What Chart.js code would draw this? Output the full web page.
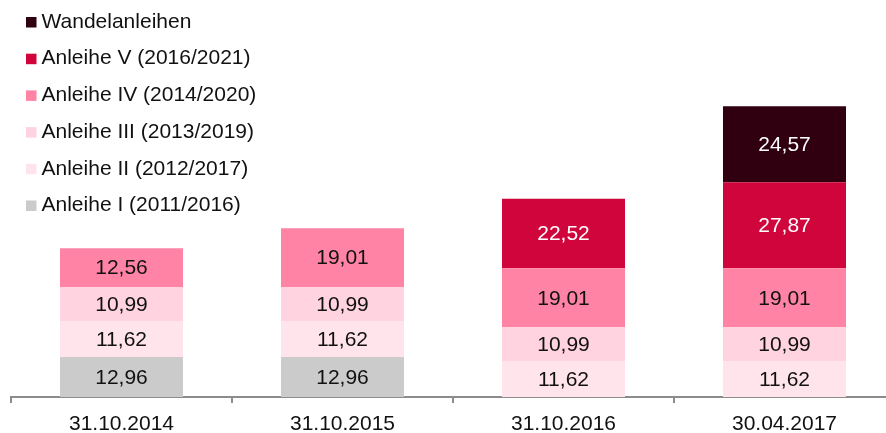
<!DOCTYPE html>
<html>
<head>
<meta charset="utf-8">
<script src="https://cdn.jsdelivr.net/npm/chart.js@4"></script>
<style>
html, body { margin: 0; padding: 0; background: #fff; overflow: hidden; }
#wrap { position: relative; width: 896px; height: 433px; }
</style>
</head>
<body>
<div id="wrap"><canvas id="c"></canvas></div>
<script>
const categories = ['31.10.2014', '31.10.2015', '31.10.2016', '30.04.2017'];
const anleiheI   = [12.96, 12.96, null, null];
const anleiheII  = [11.62, 11.62, 11.62, 11.62];
const anleiheIII = [10.99, 10.99, 10.99, 10.99];
const anleiheIV  = [12.56, 19.01, 19.01, 19.01];
const anleiheV   = [null, null, 22.52, 27.87];
const wandel     = [null, null, null, 24.57];
const seriesNames = ['Anleihe I (2011/2016)', 'Anleihe II (2012/2017)', 'Anleihe III (2013/2019)',
                     'Anleihe IV (2014/2020)', 'Anleihe V (2016/2021)', 'Wandelanleihen'];
const seriesColors = ['#cbcbcb', '#ffe4ec', '#ffd3df', '#ff83a5', '#cf053b', '#300010'];
const labelColors  = ['#111', '#111', '#111', '#111', '#fff', '#fff'];
const seriesData = [anleiheI, anleiheII, anleiheIII, anleiheIV, anleiheV, wandel];

const FONT = '21px "Liberation Sans", Arial, sans-serif';

const valueLabels = {
  id: 'valueLabels',
  afterDatasetsDraw(chart) {
    const ctx = chart.ctx;
    ctx.save();
    ctx.font = FONT;
    ctx.textAlign = 'center';
    ctx.textBaseline = 'middle';
    chart.data.datasets.forEach((ds, di) => {
      const meta = chart.getDatasetMeta(di);
      meta.data.forEach((bar, i) => {
        const v = ds.data[i];
        if (v === null || v === undefined) return;
        ctx.fillStyle = labelColors[di];
        ctx.fillText(v.toFixed(2).replace('.', ','), bar.x, (bar.y + bar.base) / 2 + 1);
      });
    });
    ctx.restore();
  }
};

const sideLegend = {
  id: 'sideLegend',
  afterDraw(chart) {
    const ctx = chart.ctx;
    ctx.save();
    ctx.font = FONT;
    ctx.textAlign = 'left';
    ctx.textBaseline = 'middle';
    const items = chart.data.datasets.slice().reverse();
    items.forEach((ds, i) => {
      const y = 22 + i * 36.7;
      ctx.fillStyle = ds.backgroundColor;
      ctx.fillRect(26, y - 5, 10.5, 10.5);
      ctx.fillStyle = '#111';
      ctx.fillText(ds.label, 41.5, y);
    });
    ctx.restore();
  }
};

new Chart(document.getElementById('c'), {
  type: 'bar',
  data: {
    labels: categories,
    datasets: seriesData.map((d, i) => ({
      label: seriesNames[i],
      data: d,
      backgroundColor: seriesColors[i],
      borderWidth: 0,
      barPercentage: 0.5566,
      categoryPercentage: 1
    }))
  },
  options: {
    responsive: true,
    maintainAspectRatio: false,
    animation: false,
    layout: { padding: { top: 26, left: 11, right: 1, bottom: 0 } },
    plugins: { legend: { display: false }, tooltip: { enabled: false } },
    scales: {
      x: {
        stacked: true,
        offset: true,
        grid: { display: true, drawOnChartArea: false, drawTicks: true, tickLength: 6, color: '#8c8c8c', lineWidth: 2, offset: true },
        border: { display: true, color: '#8c8c8c', width: 2 },
        ticks: { color: '#111', font: { family: '"Liberation Sans", Arial, sans-serif', size: 21 }, padding: 9, maxRotation: 0 },
        afterFit(scale) { scale.height = 36; }
      },
      y: {
        stacked: true,
        display: false,
        min: 0,
        max: 120
      }
    }
  },
  plugins: [valueLabels, sideLegend]
});
</script>
</body>
</html>
